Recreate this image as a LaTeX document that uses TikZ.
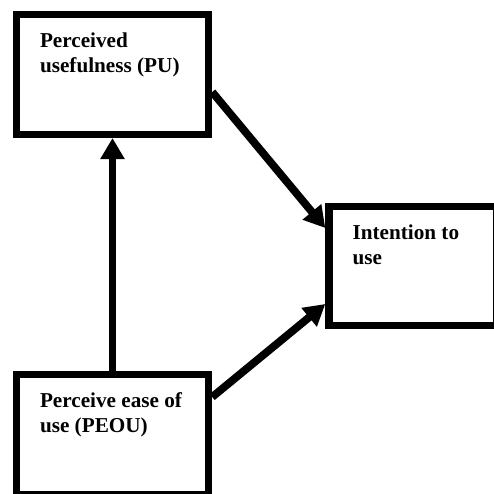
\documentclass[tikz,border=0pt]{standalone}
\usepackage{fontspec}
\setmainfont{Liberation Serif}
\usetikzlibrary{arrows.meta,positioning}
\begin{document}
\begin{tikzpicture}[x=1pt,y=-1pt,box/.style={draw=black,line width=7.4pt,minimum width=192pt,minimum height=120pt,inner sep=0pt},txt/.style={anchor=base west,align=left,inner sep=0pt,font=\bfseries\fontsize{21.2}{25}\selectfont},a/.style={-{Triangle[length=21pt,width=23pt]},line width=7.8pt,draw=black}]
\useasboundingbox (0,0) rectangle (494,493);
\node[box] (pu) at (112.5,74.3) {};
\node[box,minimum width=168pt,minimum height=119pt] (int) at (413,266) {};
\node[box] (peou) at (112.5,434.5) {};
\node[txt] (putxt) at ([shift={(27,62)}]pu.north west) {Perceived\\usefulness (PU)};
\node[txt] (inttxt) at ([shift={(27,62)}]int.north west) {Intention to\\use};
\node[txt] (peoutxt) at ([shift={(27,62)}]peou.north west) {Perceive ease of\\use (PEOU)};
\draw[a] (peou.north)--(pu.south);
\draw[a] ([yshift=-17.7pt]pu.east)--([yshift=38pt]int.west);
\draw[a] ([yshift=37.5pt]peou.east)--([yshift=-38pt]int.west);
\end{tikzpicture}
\end{document}
